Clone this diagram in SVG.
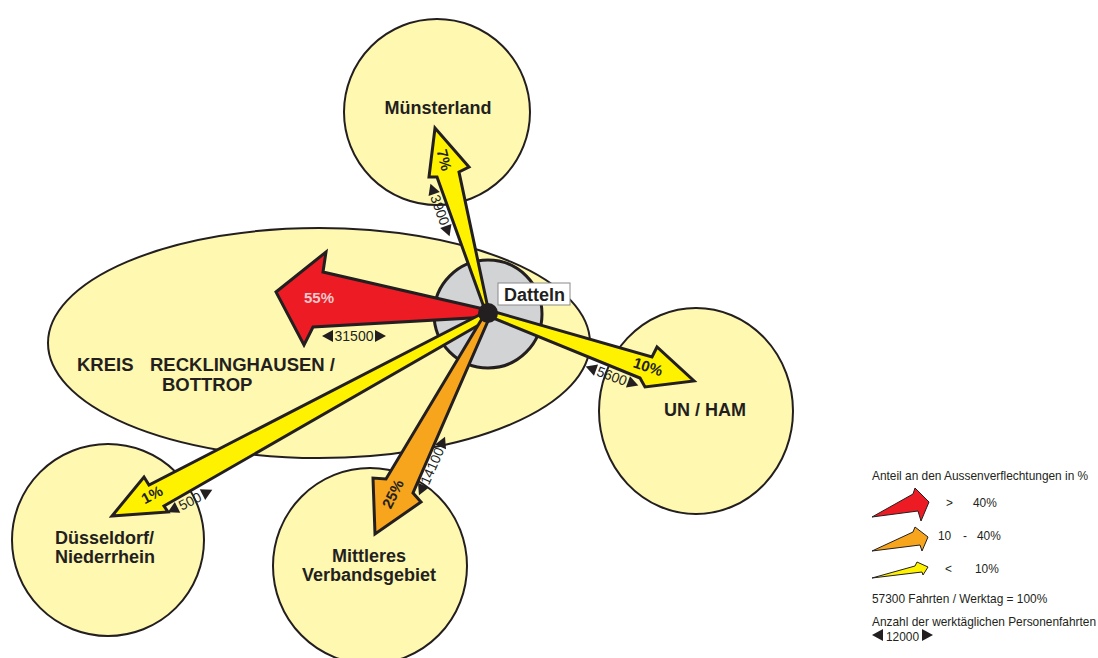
<svg xmlns="http://www.w3.org/2000/svg" width="1098" height="658" viewBox="0 0 1098 658">
<style>
.region{fill:#fff8b0;stroke:#231f20;stroke-width:2}
.hubc{fill:#d1d3d4;stroke:#231f20;stroke-width:3}
.arrow{stroke:#231f20;stroke-width:3;stroke-linejoin:miter;stroke-miterlimit:12}
.larrow{stroke:#231f20;stroke-width:1;stroke-linejoin:miter;stroke-miterlimit:12}
.red{fill:#ed1c24}.yel{fill:#fff200}.org{fill:#f7a51c}
.lbl{font-family:"Liberation Sans",Arial,sans-serif;font-weight:bold;font-size:18px;fill:#231f20}
.big{font-size:18.5px}
.mid{text-anchor:middle}
.pct{font-family:"Liberation Sans",Arial,sans-serif;font-weight:bold;font-size:15px;fill:#231f20;text-anchor:middle}
.num{font-family:"Liberation Sans",Arial,sans-serif;font-size:14px;fill:#231f20;text-anchor:middle}
.leg{font-family:"Liberation Sans",Arial,sans-serif;font-size:11.9px;fill:#231f20}
.tri{fill:#231f20}
</style>
<defs>
<polygon id="tl" points="-11,0 0,-6 0,6"/>
<polygon id="tr" points="11,0 0,-6 0,6"/>
</defs>

<g id="kreis-recklinghausen-bottrop">
<ellipse class="region" cx="319" cy="343" rx="271" ry="115"/>
<text class="lbl big" x="77" y="371">KREIS</text>
<text class="lbl big" x="150" y="371">RECKLINGHAUSEN /</text>
<text class="lbl big" x="162" y="391">BOTTROP</text>
</g>
<g id="muensterland">
<circle class="region" cx="437" cy="112" r="93"/>
<text class="lbl mid" x="438" y="114">Münsterland</text>
</g>
<g id="un-ham">
<ellipse class="region" cx="696" cy="411" rx="97" ry="103"/>
<text class="lbl mid" x="705" y="416">UN / HAM</text>
</g>
<g id="duesseldorf-niederrhein">
<circle class="region" cx="108" cy="540" r="96"/>
<text class="lbl" x="55" y="544">Düsseldorf/</text>
<text class="lbl" x="55" y="563">Niederrhein</text>
</g>
<g id="mittleres-verbandsgebiet">
<ellipse class="region" cx="370" cy="566" rx="97" ry="98"/>
<text class="lbl mid" x="369" y="562">Mittleres</text>
<text class="lbl mid" x="369" y="581">Verbandsgebiet</text>
</g>
<g id="datteln-area">
<circle class="hubc" cx="488" cy="314" r="54"/>
</g>

<g id="connectors">
<polygon class="arrow red" points="488,310 323,272 326,252 276,292 304,345 313,327 488,317"/>
<polygon class="arrow yel" points="489,313 459,172 469,167 435,128 429,177 437,177 486,313"/>
<polygon class="arrow yel" points="488,310 652,357 657,347 694,381 645,387 640,378 488,316"/>
<polygon class="arrow yel" points="487,311 149,485 144,477 112,516 168,512 164,506 491,318"/>
<polygon class="arrow org" points="486,312 386,479 373,478 375,534 421,502 413,493 491,314"/>

<text class="pct" x="319" y="303" style="fill:#f2c9cc">55%</text>
<g transform="translate(354,336)"><use href="#tl" class="tri" x="-21"/><text class="num" x="0" y="5">31500</text><use href="#tr" class="tri" x="21"/></g>

<text class="pct" transform="translate(444,160) rotate(76)" x="0" y="5">7%</text>
<g transform="translate(440,210) rotate(70)"><use href="#tl" class="tri" x="-17"/><text class="num" x="0" y="5">3900</text><use href="#tr" class="tri" x="17"/></g>

<text class="pct" transform="translate(648,367) rotate(18)" x="0" y="5">10%</text>
<g transform="translate(612,376) rotate(20)"><use href="#tl" class="tri" x="-17"/><text class="num" x="0" y="5">5600</text><use href="#tr" class="tri" x="17"/></g>

<text class="pct" transform="translate(152,495) rotate(-28)" x="0" y="5">1%</text>
<g transform="translate(190,501) rotate(-27)"><use href="#tl" class="tri" x="-14"/><text class="num" x="0" y="5">500</text><use href="#tr" class="tri" x="14"/></g>

<text class="pct" transform="translate(393,494) rotate(-63)" x="0" y="5">25%</text>
<g transform="translate(432,466) rotate(-66)"><use href="#tl" class="tri" x="-21"/><text class="num" x="0" y="5">14100</text><use href="#tr" class="tri" x="21"/></g>
</g>

<g id="datteln">
<circle cx="488" cy="313" r="10" fill="#231f20"/>
<rect x="498" y="283" width="72" height="22" fill="#ffffff" stroke="#8a8a8a" stroke-width="1"/>
<text class="lbl" x="504" y="301">Datteln</text>
</g>

<g id="legend">
<text class="leg" x="872" y="480">Anteil an den Aussenverflechtungen in %</text>
<polygon class="larrow red" points="872,517 913,494 915,488 929,502 921,521 918,511"/>
<text class="leg" x="946" y="507">&gt;</text>
<text class="leg" x="973" y="507">40%</text>
<polygon class="larrow org" points="872,551 913,532 915,527 928,537 922,551 920,545"/>
<text class="leg" x="938" y="540">10</text>
<text class="leg" x="963" y="540">-</text>
<text class="leg" x="977" y="540">40%</text>
<polygon class="larrow yel" points="872,578 915,566 917,562 928,567 923,575 922,572"/>
<text class="leg" x="945" y="573">&lt;</text>
<text class="leg" x="975" y="573">10%</text>
<text class="leg" x="872" y="603">57300 Fahrten / Werktag = 100%</text>
<text class="leg" x="872" y="626">Anzahl der werktäglichen Personenfahrten</text>
<polygon class="tri" points="872,635 883,629 883,641"/>
<text class="leg" x="886" y="641">12000</text>
<polygon class="tri" points="922,629 922,641 933,635"/>
</g>
</svg>
